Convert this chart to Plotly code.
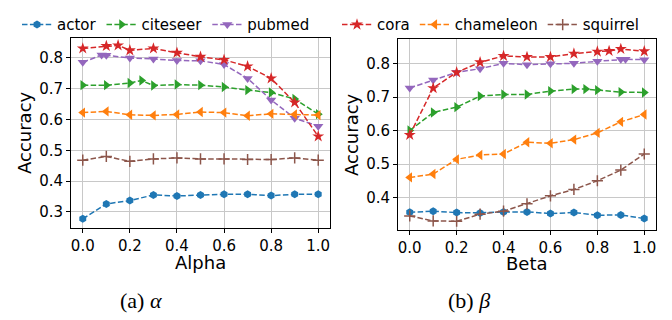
import plotly.graph_objects as go

# ---------------- data ----------------
x_std = [0.0, 0.1, 0.2, 0.3, 0.4, 0.5, 0.6, 0.7, 0.8, 0.9, 1.0]

# Alpha panel
alpha_actor_x = x_std
alpha_actor_y = [0.278, 0.326, 0.337, 0.355, 0.352, 0.355, 0.357, 0.357, 0.353, 0.357, 0.357]
alpha_citeseer_x = [0.0, 0.1, 0.2, 0.25, 0.3, 0.4, 0.5, 0.6, 0.7, 0.8, 0.9, 1.0]
alpha_citeseer_y = [0.711, 0.711, 0.718, 0.726, 0.710, 0.713, 0.711, 0.705, 0.695, 0.687, 0.666, 0.617]
alpha_pubmed_x = [0.0, 0.08, 0.1, 0.2, 0.3, 0.4, 0.5, 0.6, 0.7, 0.8, 0.9, 1.0]
alpha_pubmed_y = [0.785, 0.809, 0.808, 0.799, 0.796, 0.791, 0.790, 0.778, 0.733, 0.663, 0.604, 0.578]
alpha_cora_x = [0.0, 0.1, 0.15, 0.2, 0.3, 0.4, 0.5, 0.6, 0.7, 0.8, 0.9, 1.0]
alpha_cora_y = [0.830, 0.838, 0.840, 0.824, 0.830, 0.816, 0.803, 0.793, 0.772, 0.733, 0.655, 0.545]
alpha_chameleon_x = x_std
alpha_chameleon_y = [0.622, 0.626, 0.615, 0.613, 0.616, 0.624, 0.622, 0.612, 0.618, 0.616, 0.614]
alpha_squirrel_x = x_std
alpha_squirrel_y = [0.468, 0.480, 0.464, 0.472, 0.475, 0.472, 0.472, 0.470, 0.470, 0.475, 0.468]

# Beta panel
beta_actor_x = x_std
beta_actor_y = [0.356, 0.359, 0.355, 0.354, 0.357, 0.357, 0.352, 0.355, 0.347, 0.348, 0.337]
beta_citeseer_x = [0.0, 0.1, 0.2, 0.3, 0.4, 0.5, 0.6, 0.7, 0.75, 0.8, 0.9, 1.0]
beta_citeseer_y = [0.600, 0.654, 0.670, 0.703, 0.708, 0.708, 0.718, 0.724, 0.724, 0.721, 0.715, 0.714]
beta_pubmed_x = [0.0, 0.1, 0.2, 0.3, 0.4, 0.5, 0.6, 0.7, 0.8, 0.9, 0.92, 1.0]
beta_pubmed_y = [0.727, 0.751, 0.774, 0.785, 0.801, 0.797, 0.800, 0.801, 0.807, 0.813, 0.813, 0.812]
beta_cora_x = [0.0, 0.1, 0.2, 0.3, 0.4, 0.5, 0.6, 0.7, 0.8, 0.85, 0.9, 1.0]
beta_cora_y = [0.587, 0.727, 0.774, 0.804, 0.823, 0.820, 0.820, 0.830, 0.836, 0.838, 0.844, 0.837]
beta_chameleon_x = x_std
beta_chameleon_y = [0.460, 0.470, 0.514, 0.527, 0.530, 0.565, 0.562, 0.573, 0.593, 0.626, 0.648]
beta_squirrel_x = x_std
beta_squirrel_y = [0.345, 0.330, 0.329, 0.350, 0.359, 0.381, 0.405, 0.424, 0.450, 0.482, 0.530]

x_ticks = [0.0, 0.2, 0.4, 0.6, 0.8, 1.0]
x_tick_labels = ["0.0", "0.2", "0.4", "0.6", "0.8", "1.0"]
y_ticks = [0.3, 0.4, 0.5, 0.6, 0.7, 0.8]
y_tick_labels = ["0.3", "0.4", "0.5", "0.6", "0.7", "0.8"]

# ---------------- styles ----------------
styles = {
    "actor": dict(color="#1f77b4", symbol="hexagon", size=8),
    "citeseer": dict(color="#2ca02c", symbol="triangle-right", size=9),
    "pubmed": dict(color="#9467bd", symbol="triangle-down", size=9),
    "cora": dict(color="#d62728", symbol="star", size=9),
    "chameleon": dict(color="#ff7f0e", symbol="triangle-left", size=9),
    "squirrel": dict(color="#8c564b", symbol="cross-thin", size=8),
}
legend_of = {"actor": "legend", "citeseer": "legend", "pubmed": "legend",
             "cora": "legend2", "chameleon": "legend2", "squirrel": "legend2"}

alpha_series = {
    "actor": (alpha_actor_x, alpha_actor_y),
    "citeseer": (alpha_citeseer_x, alpha_citeseer_y),
    "pubmed": (alpha_pubmed_x, alpha_pubmed_y),
    "cora": (alpha_cora_x, alpha_cora_y),
    "chameleon": (alpha_chameleon_x, alpha_chameleon_y),
    "squirrel": (alpha_squirrel_x, alpha_squirrel_y),
}
beta_series = {
    "actor": (beta_actor_x, beta_actor_y),
    "citeseer": (beta_citeseer_x, beta_citeseer_y),
    "pubmed": (beta_pubmed_x, beta_pubmed_y),
    "cora": (beta_cora_x, beta_cora_y),
    "chameleon": (beta_chameleon_x, beta_chameleon_y),
    "squirrel": (beta_squirrel_x, beta_squirrel_y),
}

fig = go.Figure()


def add(name, xs, ys, xa, ya, show):
    st = styles[name]
    marker = dict(symbol=st["symbol"], size=st["size"], color=st["color"])
    if st["symbol"] == "cross-thin":
        marker["line"] = dict(color=st["color"], width=1.5)
    else:
        marker["line"] = dict(width=0)
    fig.add_trace(go.Scatter(
        x=xs, y=ys, name=name, mode="lines+markers",
        line=dict(color=st["color"], width=1.5, dash="5.5px,2.4px"),
        marker=marker, xaxis=xa, yaxis=ya,
        showlegend=show, legend=legend_of[name],
    ))


for nm, (xs, ys) in alpha_series.items():
    add(nm, xs, ys, "x", "y", True)
for nm, (xs, ys) in beta_series.items():
    add(nm, xs, ys, "x2", "y2", False)

# The page body has an 8px default margin, so the figure is offset by 8px.
OFF = 8
W, H = 672 - OFF, 320 - OFF


def px(X):
    return (X - OFF) / W


def py(Y):
    return 1 - (Y - OFF) / H


font_main = "DejaVu Sans"
axis_common = dict(
    showline=True, linecolor="black", linewidth=1, mirror=True,
    ticks="outside", ticklen=4, tickwidth=1, tickcolor="black",
    showgrid=True, gridcolor="#c8c8c8", gridwidth=1, zeroline=False,
    automargin=False,
    tickfont=dict(family=font_main, size=15, color="black"),
)

L_left, L_right, L_top, L_bot = 71, 330, 27, 224
R_left, R_right, R_top, R_bot = 398, 656, 28, 226


def ann(text, x, y, size, family=font_main, angle=0):
    return dict(text=text, x=px(x), y=py(y), xref="paper", yref="paper",
                showarrow=False, xanchor="center", yanchor="middle", textangle=angle,
                font=dict(family=family, size=size, color="black"))


fig.update_layout(
    width=W, height=H,
    margin=dict(l=0, r=0, t=0, b=0),
    paper_bgcolor="white", plot_bgcolor="white",
    font=dict(family=font_main, color="black"),
    xaxis=dict(domain=[px(L_left), px(L_right)], range=[-0.05, 1.05],
               tickvals=x_ticks, ticktext=x_tick_labels, anchor="y", **axis_common),
    yaxis=dict(domain=[py(L_bot), py(L_top)], range=[0.249, 0.863],
               tickvals=y_ticks, ticktext=y_tick_labels, anchor="x", **axis_common),
    xaxis2=dict(domain=[px(R_left), px(R_right)], range=[-0.05, 1.05],
                tickvals=x_ticks, ticktext=x_tick_labels, anchor="y2", **axis_common),
    yaxis2=dict(domain=[py(R_bot), py(R_top)], range=[0.304, 0.873],
                tickvals=y_ticks, ticktext=y_tick_labels, anchor="x2", **axis_common),
    legend=dict(orientation="h", x=px(17), y=py(13), xanchor="left", yanchor="middle",
                bgcolor="rgba(0,0,0,0)", font=dict(size=15, family=font_main),
                itemwidth=30, tracegroupgap=0),
    legend2=dict(orientation="h", x=px(337), y=py(13), xanchor="left", yanchor="middle",
                 bgcolor="rgba(0,0,0,0)", font=dict(size=15, family=font_main),
                 itemwidth=30, tracegroupgap=0),
    annotations=[
        ann("Alpha", 200.5, 260, 18),
        ann("Beta", 527, 261, 18),
        ann("Accuracy", 25, (L_top + L_bot) / 2, 18, angle=-90),
        ann("Accuracy", 351.5, (R_top + R_bot) / 2, 18, angle=-90),
        ann("(a) <i>α</i>", 141, 300, 22, family="Liberation Serif"),
        ann("(b) <i>β</i>", 469, 300, 22, family="Liberation Serif"),
    ],
)

fig.write_html("out.html")
